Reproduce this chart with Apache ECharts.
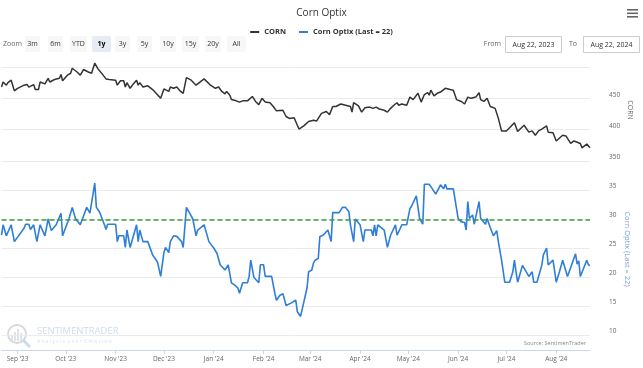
<!DOCTYPE html>
<html><head><meta charset="utf-8">
<script src="https://cdn.jsdelivr.net/npm/echarts@6/dist/echarts.min.js"></script>
<style>html,body{margin:0;padding:0;background:#fff}#c{width:643px;height:368px}</style>
</head><body><div id="c"></div>
<script>
const FONT = '"Open Sans", "Noto Sans", sans-serif';
const chartTitle = 'Corn Optix';
const cornName = 'CORN';
const optixName = 'Corn Optix (Last = 22)';
const rangeStart = '2023-08-22';
const rangeEnd = '2024-08-22';
const rangeStartLabel = 'Aug 22, 2023';
const rangeEndLabel = 'Aug 22, 2024';

const cornDates = [
 '2023-08-22','2023-08-23','2023-08-25','2023-08-26','2023-08-28','2023-08-30',
 '2023-09-01','2023-09-05','2023-09-07','2023-09-08','2023-09-11','2023-09-12','2023-09-14','2023-09-15','2023-09-18','2023-09-20','2023-09-21','2023-09-24','2023-09-27','2023-09-28','2023-09-29',
 '2023-10-02','2023-10-04','2023-10-05','2023-10-08','2023-10-10','2023-10-12','2023-10-15','2023-10-17','2023-10-19','2023-10-21','2023-10-23','2023-10-26','2023-10-28',
 '2023-11-01','2023-11-02','2023-11-04','2023-11-06','2023-11-07','2023-11-08','2023-11-10','2023-11-12','2023-11-14','2023-11-15','2023-11-16','2023-11-18','2023-11-21','2023-11-24','2023-11-29',
 '2023-12-01','2023-12-04','2023-12-05','2023-12-07','2023-12-09','2023-12-11','2023-12-13','2023-12-14','2023-12-15','2023-12-18','2023-12-21','2023-12-23','2023-12-26','2023-12-30',
 '2024-01-02','2024-01-04','2024-01-06','2024-01-08','2024-01-09','2024-01-11','2024-01-12','2024-01-15','2024-01-17','2024-01-19','2024-01-22','2024-01-25','2024-01-27','2024-01-29','2024-01-31',
 '2024-02-02','2024-02-05','2024-02-07','2024-02-09','2024-02-13','2024-02-15','2024-02-17','2024-02-20','2024-02-23','2024-02-26','2024-02-29',
 '2024-03-01','2024-03-03','2024-03-04','2024-03-05','2024-03-08','2024-03-11','2024-03-13','2024-03-14','2024-03-15','2024-03-17','2024-03-20','2024-03-23','2024-03-26','2024-03-27','2024-03-28','2024-03-31',
 '2024-04-02','2024-04-04','2024-04-07','2024-04-09','2024-04-10','2024-04-11','2024-04-13','2024-04-16','2024-04-18','2024-04-20','2024-04-22','2024-04-24','2024-04-25','2024-04-27','2024-04-30',
 '2024-05-01','2024-05-02','2024-05-04','2024-05-07','2024-05-09','2024-05-11','2024-05-13','2024-05-14','2024-05-15','2024-05-17','2024-05-19','2024-05-21','2024-05-24','2024-05-27','2024-05-29','2024-05-31',
 '2024-06-03','2024-06-05','2024-06-07','2024-06-09','2024-06-12','2024-06-14','2024-06-15','2024-06-17','2024-06-19','2024-06-21','2024-06-24','2024-06-26','2024-06-28',
 '2024-07-01','2024-07-03','2024-07-06','2024-07-08','2024-07-12','2024-07-15','2024-07-17','2024-07-19','2024-07-21','2024-07-23','2024-07-26','2024-07-27','2024-07-30',
 '2024-08-01','2024-08-05','2024-08-07','2024-08-10','2024-08-12','2024-08-14','2024-08-15','2024-08-16','2024-08-17','2024-08-20','2024-08-22'
];
const cornValues = [
 468,476,471,475,479,462,
 466,471,472,468,472,464,464,476,473,482,476,480,482,488,478,
 487,490,498,492,487,496,492,490,506,497,491,481,480,
 479,471,478,478,468,475,466,473,479,471,475,468,470,464,450,
 465,461,468,466,468,462,458,457,483,479,471,475,481,471,
 466,468,461,457,461,455,448,446,444,446,446,453,445,440,450,
 444,443,437,430,431,421,418,419,401,406,413,
 416,415,418,414,426,429,424,422,437,437,441,439,437,428,443,438,
 428,435,436,434,431,436,433,431,428,434,439,443,439,441,439,
 441,452,448,458,444,456,459,455,463,454,458,460,466,464,463,448,
 445,441,452,450,452,459,448,445,450,437,434,418,398,
 398,403,411,397,407,396,398,391,398,401,406,396,395,
 382,391,390,378,382,380,382,378,371,377,371
];

const optixDates = [
 '2023-08-22','2023-08-23','2023-08-25','2023-08-28','2023-08-30','2023-08-31',
 '2023-09-05','2023-09-06','2023-09-08','2023-09-09','2023-09-11','2023-09-13','2023-09-14','2023-09-15','2023-09-18','2023-09-20','2023-09-22','2023-09-25','2023-09-26','2023-09-28','2023-09-29',
 '2023-10-03','2023-10-04','2023-10-05','2023-10-07','2023-10-10','2023-10-11','2023-10-14','2023-10-16','2023-10-17','2023-10-19','2023-10-20','2023-10-22','2023-10-25','2023-10-26','2023-10-27',
 '2023-11-01','2023-11-02','2023-11-03','2023-11-06','2023-11-07','2023-11-08','2023-11-10','2023-11-14','2023-11-15','2023-11-16','2023-11-18','2023-11-21','2023-11-24','2023-11-27','2023-11-29',
 '2023-12-01','2023-12-02','2023-12-04','2023-12-05','2023-12-07','2023-12-09','2023-12-12','2023-12-13','2023-12-14','2023-12-15','2023-12-17','2023-12-19','2023-12-21','2023-12-22','2023-12-23','2023-12-26','2023-12-29',
 '2024-01-01','2024-01-03','2024-01-04','2024-01-05','2024-01-08','2024-01-10','2024-01-11','2024-01-12','2024-01-14','2024-01-16','2024-01-17','2024-01-19','2024-01-22','2024-01-23','2024-01-24','2024-01-26','2024-01-29','2024-01-30',
 '2024-02-01','2024-02-02','2024-02-06','2024-02-08','2024-02-09','2024-02-11','2024-02-13','2024-02-15','2024-02-18','2024-02-21','2024-02-22','2024-02-24','2024-02-28','2024-02-29',
 '2024-03-02','2024-03-03','2024-03-04','2024-03-06','2024-03-07','2024-03-09','2024-03-12','2024-03-14','2024-03-15','2024-03-19','2024-03-21','2024-03-23','2024-03-25','2024-03-26','2024-03-28','2024-03-29',
 '2024-04-01','2024-04-03','2024-04-04','2024-04-08','2024-04-09','2024-04-10','2024-04-11','2024-04-12','2024-04-16','2024-04-18','2024-04-20','2024-04-23','2024-04-24','2024-04-27','2024-04-30',
 '2024-05-02','2024-05-03','2024-05-06','2024-05-08','2024-05-10','2024-05-11','2024-05-14','2024-05-16','2024-05-18','2024-05-20','2024-05-21','2024-05-23','2024-05-24','2024-05-25','2024-05-29','2024-05-31',
 '2024-06-01','2024-06-03','2024-06-05','2024-06-06','2024-06-07','2024-06-08','2024-06-10','2024-06-11','2024-06-14','2024-06-15','2024-06-18','2024-06-19','2024-06-21','2024-06-23','2024-06-25','2024-06-26','2024-06-28','2024-06-30',
 '2024-07-03','2024-07-05','2024-07-06','2024-07-07','2024-07-08','2024-07-11','2024-07-15','2024-07-17','2024-07-18','2024-07-20','2024-07-23','2024-07-24','2024-07-26','2024-07-27','2024-07-30',
 '2024-08-01','2024-08-03','2024-08-05','2024-08-08','2024-08-13','2024-08-14','2024-08-15','2024-08-16','2024-08-20','2024-08-21','2024-08-22'
];
const optixValues = [
 27.2,29,27.1,29,26.1,26.1,
 28.4,29.1,29.1,28.2,29,26.1,26.1,29,27.1,30,28,29,29.1,31,27.1,
 30.1,30.1,32,30.1,29,29.1,32,31,31,36.2,32,31.2,29,28.2,29.1,
 29.1,26.1,27.1,27.1,25.1,28.1,25.1,29,26.1,28.1,26.1,26.1,23.8,22.6,20.1,
 24.2,25.1,24.2,26.1,27.1,27,26.1,25.1,25.1,32,31,30,27.1,28.1,28.3,29,26.1,
 25,24.1,24.1,22.1,21.2,22.1,22.1,19,18.6,18.1,17.2,19,19,20.1,22.9,19.9,19,22.1,
 22.1,20.1,20.1,17.2,16,16.8,17.1,15.1,15.5,16,14,13.2,18.1,20.9,
 21.2,22.4,22.9,23.2,27,27.2,28.1,26.1,31.1,31.1,32,32,31.3,29,26.1,30,
 29,26.1,28.1,28.1,27.1,29,27.1,29,28.1,25.1,27.2,29,27.2,29,29,
 31.8,32.2,34,30.1,29.1,36,36,35.2,34.3,35.3,35.9,35.2,36,35.2,35.2,31.8,
 30.1,29.5,29.4,28.1,33,30.1,30.7,29.1,33,30.1,29.1,30.1,28.5,27.1,28,26.1,22.9,19.1,
 19.1,20.9,22.9,20.9,19.1,22,20.1,20.9,19.1,19.1,22,23.8,25,22.1,22.9,
 19.1,20.9,22.9,20.1,24,22.2,22.8,20.1,22.9,22.1,22
];
const optixThreshold = 29.8;

const monthTickDates = ['2023-09-01','2023-10-01','2023-11-01','2023-12-01','2024-01-01','2024-02-01','2024-03-01','2024-04-01','2024-05-01','2024-06-01','2024-07-01','2024-08-01'];
const monthTickLabels = ["Sep '23","Oct '23","Nov '23","Dec '23","Jan '24","Feb '24","Mar '24","Apr '24","May '24","Jun '24","Jul '24","Aug '24"];
const cornAxis = {min: 350, max: 500, step: 50};
const optixAxis = {min: 10, max: 35, step: 5};
const zoomButtons = ['3m','6m','YTD','1y','3y','5y','10y','15y','20y','All'];
const zoomSelected = '1y';

function ts(s){ const p = s.split('-').map(Number); return Date.UTC(p[0], p[1]-1, p[2]); }
const tickTs = monthTickDates.map(ts);
const DAY = 86400000;

const chart = echarts.init(document.getElementById('c'), null, {renderer:'canvas'});

// header graphics
const g = [];
g.push({type:'text', x:3, y:44, style:{text:'Zoom', fill:'#666', font:'7px '+FONT, verticalAlign:'middle'}});
const btnX = [25,48,70,92,115,137,160,182,205,227];
const btnW = [15,15,17,19,15,15,16,17,16,19];
zoomButtons.forEach((b,i)=>{
  const sel = b===zoomSelected;
  g.push({type:'rect', shape:{x:btnX[i], y:36, width:btnW[i], height:16, r:2}, style:{fill: sel?'#e6ebf5':'#f7f7f7'}});
  g.push({type:'text', x:btnX[i]+btnW[i]/2, y:44, style:{text:b, fill: sel?'#000':'#333', font:(sel?'bold ':'')+'7px '+FONT, align:'center', verticalAlign:'middle'}});
});
g.push({type:'text', x:501, y:44, style:{text:'From', fill:'#666', font:'7px '+FONT, align:'right', verticalAlign:'middle'}});
g.push({type:'rect', shape:{x:505.5, y:36.5, width:56, height:16}, style:{fill:'#fff', stroke:'#ccc', lineWidth:1}});
g.push({type:'text', x:533.5, y:44.5, style:{text:rangeStartLabel, fill:'#333', font:'7px '+FONT, align:'center', verticalAlign:'middle'}});
g.push({type:'text', x:577, y:44, style:{text:'To', fill:'#666', font:'7px '+FONT, align:'right', verticalAlign:'middle'}});
g.push({type:'rect', shape:{x:583.5, y:36.5, width:56, height:16}, style:{fill:'#fff', stroke:'#ccc', lineWidth:1}});
g.push({type:'text', x:611.5, y:44.5, style:{text:rangeEndLabel, fill:'#333', font:'7px '+FONT, align:'center', verticalAlign:'middle'}});
[9,12.5,16].forEach(y=>g.push({type:'rect', shape:{x:627, y:y, width:11, height:1.6}, style:{fill:'#666'}}));
// axis titles (rotated, reading top to bottom)
g.push({type:'text', x:630, y:110, rotation:-Math.PI/2, style:{text:cornName, fill:'#666', font:'7px '+FONT, align:'center', verticalAlign:'middle'}});
g.push({type:'text', x:627, y:249, rotation:-Math.PI/2, style:{text:optixName, fill:'#6f9fe3', font:'7.5px '+FONT, align:'center', verticalAlign:'middle'}});
// watermark
g.push({type:'circle', shape:{cx:17, cy:334, r:9}, style:{fill:'none', stroke:'#d5d9de', lineWidth:2}});
[[11,336,2,5],[14,332,2,9],[17,329,2,12],[20,333,2,8]].forEach(r=>g.push({type:'rect', shape:{x:r[0],y:r[1],width:r[2],height:r[3]}, style:{fill:'#dfe3e8'}}));
g.push({type:'line', shape:{x1:23, y1:340, x2:30, y2:347}, style:{stroke:'#c9dced', lineWidth:3}});
g.push({type:'text', x:37, y:331, style:{text:'SENTIMENTRADER', fill:'#cfdcec', font:'9.5px '+FONT, verticalAlign:'middle'}});
g.push({type:'text', x:37, y:342, style:{text:'A n a l y s i s  o v e r  E m o t i o n', fill:'#d9e2ee', font:'5px '+FONT, verticalAlign:'middle'}});
g.push({type:'text', x:586, y:343, style:{text:'Source: SentimenTrader', fill:'#888', font:'5.5px '+FONT, align:'right', verticalAlign:'middle'}});

const option = {
  animation:false,
  useUTC:true,
  textStyle:{fontFamily:FONT},
  title:{text:chartTitle, left:'center', top:3, textStyle:{fontSize:10, fontWeight:'normal', color:'#333', fontFamily:FONT}},
  legend:{top:23, left:'center', itemGap:13, itemWidth:9, itemHeight:2, icon:'rect',
    textStyle:{fontSize:7.5, fontWeight:'bold', color:'#333', fontFamily:FONT},
    data:[cornName, optixName]},
  graphic:g,
  grid:[
    {left:1.5, right:53, top:67, bottom:368-161},
    {left:1.5, right:53, top:190, bottom:368-335}
  ],
  xAxis:[
    {type:'time', gridIndex:0, min:ts(rangeStart), max:ts(rangeEnd), show:false},
    {type:'time', gridIndex:1, min:ts(rangeStart), max:ts(rangeEnd), offset:15,
      minInterval:28*DAY, maxInterval:31*DAY, splitNumber:12,
      axisLine:{lineStyle:{color:'#ccd6eb', width:1}},
      axisTick:{show:true, length:4, lineStyle:{color:'#ccd6eb'}},
      axisLabel:{color:'#666', fontSize:6.5, margin:5.5, hideOverlap:false, showMinLabel:false, showMaxLabel:false,
        formatter:function(v){ const i = tickTs.indexOf(v); return i>=0 ? monthTickLabels[i] : ''; }},
      splitLine:{show:false}}
  ],
  yAxis:[
    {type:'value', gridIndex:0, position:'right', min:cornAxis.min, max:cornAxis.max, interval:cornAxis.step,
      axisLine:{show:false}, axisTick:{show:false},
      axisLabel:{color:'#666', fontSize:6.5, margin:19, align:'left', verticalAlign:'bottom', showMaxLabel:false},
      splitLine:{lineStyle:{color:'#ebebeb', width:1}}},
    {type:'value', gridIndex:1, position:'right', min:optixAxis.min, max:optixAxis.max, interval:optixAxis.step,
      axisLine:{show:false}, axisTick:{show:false},
      axisLabel:{color:'#666', fontSize:6.5, margin:19, align:'left', verticalAlign:'bottom'},
      splitLine:{lineStyle:{color:'#ebebeb', width:1}}}
  ],
  series:[
    {name:cornName, type:'line', xAxisIndex:0, yAxisIndex:0, showSymbol:false, clip:false,
      color:'#333', lineStyle:{color:'#333', width:1.5},
      data:cornDates.map((d,i)=>[ts(d), cornValues[i]])},
    {name:optixName, type:'line', xAxisIndex:1, yAxisIndex:1, showSymbol:false, clip:false,
      color:'#2f7ed8', lineStyle:{color:'#2f7ed8', width:1.6},
      data:optixDates.map((d,i)=>[ts(d), optixValues[i]]),
      markLine:{silent:true, symbol:'none', label:{show:false},
        lineStyle:{color:'#3c9a3c', type:[5,3], width:1.5},
        data:[{yAxis:optixThreshold}]}}
  ]
};
chart.setOption(option);
</script></body></html>
